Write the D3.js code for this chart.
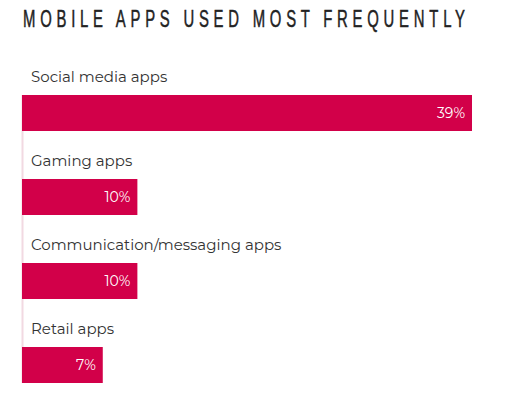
<!DOCTYPE html>
<html><head><meta charset="utf-8">
<script src="https://cdn.jsdelivr.net/npm/d3@7"></script>
<style>
body{margin:0;background:#fff;}
svg{display:block;}
</style></head>
<body>
<script>
const categories = ["Social media apps","Gaming apps","Communication/messaging apps","Retail apps"];
const values = [39,10,10,7];
const valueLabels = ["39%","10%","10%","7%"];
const title = "MOBILE APPS USED MOST FREQUENTLY";

const W = 523, H = 414;
const svg = d3.select("body").append("svg").attr("width",W).attr("height",H);

const sx = 0.62;
svg.append("text")
  .attr("transform",`translate(23,27) scale(${sx},1)`)
  .attr("x",0).attr("y",0)
  .attr("font-family","'Liberation Sans',sans-serif")
  .attr("font-size",24)
  .attr("fill","#222")
  .attr("stroke","#222").attr("stroke-width",0.5)
  .attr("textLength",442/sx).attr("lengthAdjust","spacing")
  .text(title);

const x = d3.scaleLinear().domain([0,39]).range([22,472]);
const band = d3.scaleBand().domain(categories).range([53,389]).paddingInner(0).paddingOuter(0);

svg.append("line")
  .attr("x1",22.5).attr("x2",22.5)
  .attr("y1",band(categories[0])+42).attr("y2",band(categories[3])+78)
  .attr("stroke","#f2d9e2").attr("stroke-width",2);

const g = svg.selectAll("g.row").data(categories).enter().append("g").attr("class","row");

g.append("rect")
  .attr("x",x(0))
  .attr("y",d=>band(d)+42)
  .attr("width",(d,i)=>x(values[i])-x(0))
  .attr("height",36)
  .attr("fill","#d20049");

g.append("text")
  .attr("x",31)
  .attr("y",d=>band(d)+29)
  .attr("font-family","Montserrat,'Noto Sans',sans-serif")
  .attr("font-size",15)
  .attr("fill","#333")
  .text(d=>d);

g.append("text")
  .attr("x",(d,i)=>x(values[i])-7)
  .attr("y",d=>band(d)+65)
  .attr("text-anchor","end")
  .attr("font-family","Montserrat,'Noto Sans',sans-serif")
  .attr("font-size",14)
  .attr("fill","#fff")
  .text((d,i)=>valueLabels[i]);
</script>
</body></html>
